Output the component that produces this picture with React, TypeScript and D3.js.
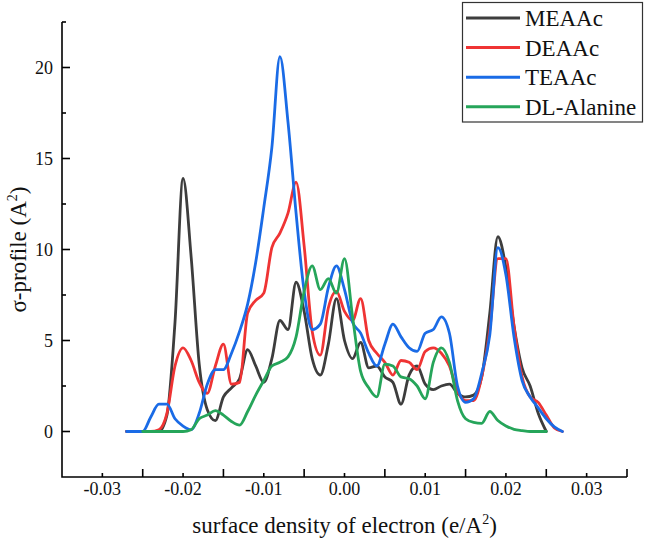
import React from "react";
import * as d3 from "d3";

const WIDTH = 646;
const HEIGHT = 541;
const margin = { top: 22, right: 19, bottom: 64, left: 62 };

// sigma grid (e/A^2), step 0.001
const sigma = [
  -0.027, -0.026, -0.025, -0.024, -0.023, -0.022, -0.021, -0.02, -0.019, -0.018,
  -0.017, -0.016, -0.015, -0.014, -0.013, -0.012, -0.011, -0.01, -0.009, -0.008,
  -0.007, -0.006, -0.005, -0.004, -0.003, -0.002, -0.001, 0, 0.001, 0.002,
  0.003, 0.004, 0.005, 0.006, 0.007, 0.008, 0.009, 0.01, 0.011, 0.012,
  0.013, 0.014, 0.015, 0.016, 0.017, 0.018, 0.019, 0.02, 0.021, 0.022,
  0.023, 0.024, 0.025, 0.026, 0.027,
];

const meaac = [
  0, 0, 0, 0, 0, 0.9, 6.0, 13.9, 9.6, 3.7,
  1.2, 0.6, 1.9, 2.4, 2.9, 4.5, 3.6, 2.7, 4.0, 6.1,
  5.6, 8.2, 6.6, 4.0, 3.1, 4.8, 7.3, 5.0, 4.0, 4.9,
  3.5, 3.6, 3.0, 2.7, 1.5, 3.1, 3.6, 2.6, 2.3, 2.5,
  2.6, 2.1, 1.9, 2.0, 3.0, 6.5, 10.7, 9.0, 5.8, 3.5,
  2.5, 1.0, 0, null, null,
];

const deaac = [
  0, 0, 0, 0, 0.1, 1.0, 3.6, 4.6, 3.9, 2.7,
  2.1, 3.6, 4.8, 2.6, 2.7, 6.5, 7.2, 7.6, 10.1, 10.9,
  12.0, 13.7, 10.2, 5.5, 4.2, 6.8, 7.7, 6.6, 6.1, 7.3,
  5.0, 4.3, 3.8, 3.1, 3.9, 3.8, 3.4, 4.4, 4.6, 4.3,
  3.6, 2.2, 1.7, 1.7, 3.0, 5.6, 9.5, 9.5, 5.8, 3.0,
  1.9, 1.6, 0.9, 0.2, 0,
];

const teaac = [
  0, 0, 0, 0.8, 1.5, 1.5, 0.7, 0.3, 0.1, 1.0,
  2.6, 3.4, 3.4, 4.3, 5.5, 7.0, 9.3, 12.3, 15.6, 20.6,
  17.0, 12.0, 7.7, 5.6, 5.9, 7.9, 9.1, 7.8, 6.0, 5.4,
  4.3, 3.6, 4.8, 5.9, 5.2, 4.6, 4.4, 5.4, 5.6, 6.3,
  5.4, 2.5, 1.6, 1.8, 3.2, 5.3, 10.1, 8.6, 5.2, 2.8,
  1.9, 1.3, 0.7, 0.25, 0,
];

const alanine = [
  null, null, 0, 0, 0, 0, 0, 0, 0.1, 0.7,
  0.9, 1.15, 0.9, 0.55, 0.35, 1.1, 2.0, 2.8, 3.6, 3.8,
  4.1, 5.2, 7.7, 9.1, 7.8, 8.4, 7.6, 9.5, 6.3, 3.3,
  2.4, 1.9, 3.7, 3.6, 3.0, 2.9, 2.5, 1.8, 3.8, 4.6,
  3.8, 1.7, 0.7, 0.5, 0.45, 1.1, 0.6, 0.3, 0.12, 0.05,
  0, 0, 0, null, null,
];

const seriesNames = ["MEAAc", "DEAAc", "TEAAc", "DL-Alanine"];
const seriesColors = ["#3d3d3d", "#ef3434", "#1a6be6", "#26a55a"];
const seriesValues = [meaac, deaac, teaac, alanine];

const xLabelTicks = [-0.03, -0.02, -0.01, 0, 0.01, 0.02, 0.03];
const xLongTicks = [-0.025, -0.015, -0.005, 0.005, 0.015, 0.025, 0.035];
const yMajorTicks = [0, 5, 10, 15, 20];
const yMinorTicks = [2.5, 7.5, 12.5, 17.5, 22.5];

const FONT = "'Liberation Serif', 'Times New Roman', serif";

export default function App() {
  const x = d3
    .scaleLinear()
    .domain([-0.035, 0.035])
    .range([margin.left, WIDTH - margin.right]);
  const y = d3
    .scaleLinear()
    .domain([-2.5, 22.5])
    .range([HEIGHT - margin.bottom, margin.top]);

  const line = d3
    .line<number | null>()
    .defined((d) => d !== null)
    .x((_, i) => x(sigma[i]))
    .y((d) => y(d as number))
    .curve(d3.curveMonotoneX);

  const x0 = x.range()[0];
  const x1 = x.range()[1];
  const yb = y.range()[0];
  const yt = y.range()[1];

  return (
    <svg
      width={WIDTH}
      height={HEIGHT}
      style={{ position: "absolute", left: 0, top: 0, background: "#fff" }}
      fontFamily={FONT}
    >
      {/* curves */}
      {seriesValues.map((vals, i) => (
        <path
          key={seriesNames[i]}
          d={line(vals) || ""}
          fill="none"
          stroke={seriesColors[i]}
          strokeWidth={2.8}
          strokeLinejoin="round"
          strokeLinecap="round"
        />
      ))}

      {/* axes */}
      <g stroke="#000" strokeWidth={1.6} fill="none">
        <path d={`M${x0},${yt}V${yb}H${x1}`} />
        {yMajorTicks.map((t) => (
          <line key={"ym" + t} x1={x0} x2={x0 + 8} y1={y(t)} y2={y(t)} />
        ))}
        {yMinorTicks.map((t) => (
          <line key={"yn" + t} x1={x0} x2={x0 + 4} y1={y(t)} y2={y(t)} />
        ))}
        {xLongTicks.map((t) => (
          <line key={"xm" + t} x1={x(t)} x2={x(t)} y1={yb} y2={yb - 8} />
        ))}
        {xLabelTicks.map((t) => (
          <line key={"xn" + t} x1={x(t)} x2={x(t)} y1={yb} y2={yb - 4} />
        ))}
      </g>

      {yMajorTicks.map((t) => (
        <text
          key={"yl" + t}
          x={x0 - 9}
          y={y(t)}
          dy="0.35em"
          textAnchor="end"
          fontSize={18}
          fill="#111"
        >
          {t}
        </text>
      ))}
      {xLabelTicks.map((t) => (
        <text
          key={"xl" + t}
          x={x(t)}
          y={yb + 18}
          textAnchor="middle"
          fontSize={18}
          fill="#111"
        >
          {d3.format(".2f")(t).replace("−", "-")}
        </text>
      ))}

      {/* axis titles */}
      <text
        x={(x0 + x1) / 2}
        y={533}
        textAnchor="middle"
        fontSize={23}
        fill="#111"
      >
        surface density of electron (e/A
        <tspan dy={-9} fontSize={14}>
          2
        </tspan>
        <tspan dy={9}>)</tspan>
      </text>
      <text
        transform={`translate(26, ${(yt + yb) / 2}) rotate(-90)`}
        textAnchor="middle"
        fontSize={23}
        fill="#111"
      >
        σ-profile (A
        <tspan dy={-9} fontSize={14}>
          2
        </tspan>
        <tspan dy={9}>)</tspan>
      </text>

      {/* legend */}
      <g>
        <rect
          x={462.5}
          y={2.5}
          width={180}
          height={119.5}
          fill="#fff"
          stroke="#333"
          strokeWidth={1.2}
        />
        {seriesNames.map((name, i) => (
          <g key={name} transform={`translate(0, ${18 + i * 29.6})`}>
            <line
              x1={466}
              x2={520}
              y1={0}
              y2={0}
              stroke={seriesColors[i]}
              strokeWidth={3}
            />
            <text x={525} y={0} dy="0.35em" fontSize={23} fill="#111">
              {name}
            </text>
          </g>
        ))}
      </g>
    </svg>
  );
}
